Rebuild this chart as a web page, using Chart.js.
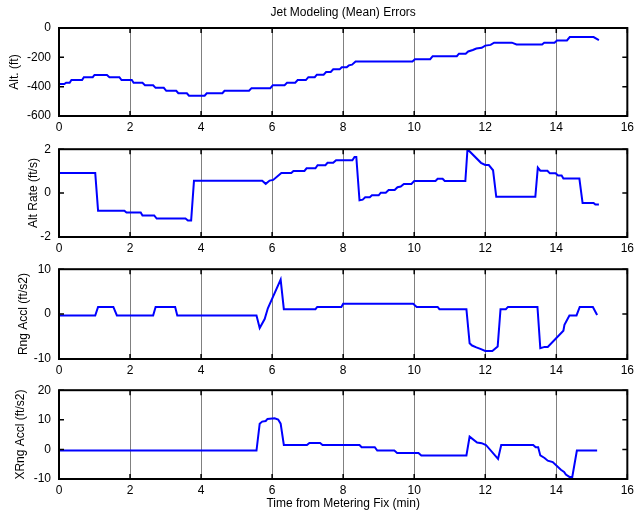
<!DOCTYPE html>
<html>
<head>
<meta charset="utf-8">
<script src="https://cdn.jsdelivr.net/npm/chart.js@4/dist/chart.umd.min.js"></script>
<style>
    body { margin: 0; background: #fff; }
    .panel { position: absolute; left: 0; width: 638px; }
</style>
</head>
<body>
<div class="panel" style="top:0;height:135px"><canvas id="altChart"></canvas></div>
<div class="panel" style="top:134px;height:121px"><canvas id="rateChart"></canvas></div>
<div class="panel" style="top:254px;height:121px"><canvas id="rngChart"></canvas></div>
<div class="panel" style="top:375px;height:138px"><canvas id="xrngChart"></canvas></div>
<script>
// data (time in min)
const xTicks = [0, 2, 4, 6, 8, 10, 12, 14, 16];

const altT = [0, 0.15, 0.2, 0.3, 0.35, 0.65, 0.7, 0.95, 1.0, 1.35, 1.42, 1.7, 1.76, 2.05, 2.1, 2.35, 2.42, 2.65, 2.72, 2.95,
    3.02, 3.3, 3.36, 3.6, 3.66, 4.1, 4.16, 4.6, 4.66, 5.35, 5.42, 5.95, 6.02, 6.35, 6.42, 6.65, 6.72, 6.95, 7.02, 7.2,
    7.26, 7.45, 7.52, 7.65, 7.72, 7.9, 7.96, 8.1, 8.16, 8.25, 8.35, 9.95, 10.02, 10.45, 10.52, 11.2, 11.26, 11.45, 11.52, 11.65,
    11.75, 11.9, 12.0, 12.15, 12.25, 12.75, 12.88, 13.6, 13.66, 13.95, 14.02, 14.3, 14.38, 15.05, 15.2];
const altV = [-382, -382, -373, -373, -355, -355, -335, -335, -320, -320, -335, -335, -355, -355, -373, -373, -390, -390, -408, -408,
    -428, -428, -445, -445, -462, -462, -445, -445, -428, -428, -410, -410, -390, -390, -373, -373, -355, -355, -335, -335,
    -318, -318, -300, -300, -282, -282, -268, -268, -255, -250, -228, -228, -213, -213, -192, -192, -175, -175, -160, -150,
    -140, -135, -120, -115, -100, -100, -112, -112, -100, -100, -85, -85, -62, -62, -82];
const altTicks = [-600, -400, -200, 0];

const rateT = [0, 1.02, 1.1, 1.84, 1.9, 2.3, 2.35, 2.68, 2.75, 3.56, 3.63, 3.72, 3.8, 5.72, 5.82, 5.93, 6.03, 6.26, 6.54, 6.6,
    6.91, 6.97, 7.22, 7.28, 7.5, 7.56, 7.72, 7.8, 8.26, 8.32, 8.37, 8.46, 8.55, 8.62, 8.75, 8.81, 9.0, 9.06, 9.2, 9.28,
    9.45, 9.53, 9.62, 9.71, 9.92, 10.0, 10.6, 10.66, 10.8, 10.86, 11.44, 11.5, 11.88, 12.0, 12.1, 12.22, 12.31, 13.41, 13.48, 13.55,
    13.75, 13.82, 13.98, 14.05, 14.15, 14.2, 14.65, 14.74, 15.05, 15.1, 15.2];
const rateV = [0.92, 0.92, -0.8, -0.8, -0.88, -0.88, -1.02, -1.02, -1.16, -1.16, -1.25, -1.25, 0.56, 0.56, 0.42, 0.57, 0.6, 0.92, 0.92, 1.01,
    1.01, 1.13, 1.13, 1.27, 1.27, 1.38, 1.38, 1.5, 1.5, 1.65, 1.65, -0.33, -0.3, -0.19, -0.19, -0.1, -0.1, 0.02, 0.02, 0.14,
    0.14, 0.27, 0.3, 0.42, 0.42, 0.55, 0.55, 0.65, 0.65, 0.55, 0.55, 2.0, 1.38, 1.28, 1.28, 1.04, -0.17, -0.17, 1.16, 1.02,
    1.02, 0.9, 0.9, 0.8, 0.8, 0.66, 0.66, -0.45, -0.45, -0.52, -0.52];
const rateTicks = [-2, 0, 2];

const rngT = [0, 1.02, 1.1, 1.53, 1.63, 2.65, 2.72, 3.27, 3.33, 5.56, 5.65, 5.79, 5.88, 6.24, 6.33, 7.22, 7.27, 7.95, 8.0, 9.97,
    10.07, 10.66, 10.71, 11.47, 11.56, 11.63, 11.75, 11.88, 12.0, 12.2, 12.35, 12.43, 12.58, 12.64, 13.47, 13.55, 13.67, 13.76, 14.2, 14.23,
    14.37, 14.57, 14.66, 15.03, 15.15];
const rngV = [-0.3, -0.3, 1.6, 1.6, -0.3, -0.3, 1.6, 1.6, -0.3, -0.3, -3.1, -1.1, 1.3, 7.7, 1.1, 1.1, 1.6, 1.6, 2.3, 2.3,
    1.6, 1.6, 1.1, 1.1, -6.5, -7.0, -7.4, -7.8, -8.2, -8.2, -7.2, 1.1, 1.1, 1.6, 1.6, -7.6, -7.3, -7.3, -3.7, -2.4,
    -0.3, -0.3, 1.6, 1.6, -0.2];
const rngTicks = [-10, 0, 10];

const xrngT = [0, 5.56, 5.65, 5.72, 5.82, 5.87, 6.07, 6.17, 6.24, 6.33, 6.98, 7.05, 7.35, 7.42, 8.46, 8.52, 8.89, 8.96, 9.44, 9.52,
    10.12, 10.2, 11.47, 11.56, 11.77, 11.9, 12.02, 12.36, 12.45, 13.35, 13.42, 13.49, 13.55, 13.67, 13.76, 13.9, 14.13, 14.22, 14.27, 14.37,
    14.45, 14.58, 15.15];
const xrngV = [-0.4, -0.4, 8.7, 9.4, 9.6, 10.3, 10.5, 10.1, 8.7, 1.5, 1.5, 2.2, 2.2, 1.5, 1.5, 0.75, 0.75, -0.4, -0.4, -1.2,
    -1.2, -2.05, -2.05, 4.3, 2.3, 2.1, 1.5, -3.2, 1.5, 1.5, 0.75, 0.75, -2.05, -2.9, -3.8, -4.3, -6.9, -7.6, -8.5, -9.3,
    -9.3, -0.4, -0.4];
const xrngTicks = [-10, 0, 10, 20];

Chart.defaults.font.family = "'Liberation Sans', Arial, Helvetica, sans-serif";
Chart.defaults.font.size = 12;
Chart.defaults.color = '#000';

// black box round the plot with matlab style inward ticks
const framePlugin = {
    id: 'frame',
    afterDraw(chart) {
        const ctx = chart.ctx;
        const a = chart.chartArea;
        const xs = chart.scales.x, ys = chart.scales.y;
        const len = 5;
        ctx.save();
        ctx.strokeStyle = '#000';
        ctx.lineWidth = 1.5;
        ctx.beginPath();
        xTicks.forEach(v => {
            const px = xs.getPixelForValue(v);
            ctx.moveTo(px, a.top); ctx.lineTo(px, a.top + len);
            ctx.moveTo(px, a.bottom); ctx.lineTo(px, a.bottom - len);
        });
        chart.options.yTickList.forEach(v => {
            const py = ys.getPixelForValue(v);
            ctx.moveTo(a.left, py); ctx.lineTo(a.left + len, py);
            ctx.moveTo(a.right, py); ctx.lineTo(a.right - len, py);
        });
        ctx.stroke();
        ctx.lineWidth = 2;
        ctx.strokeRect(a.left, a.top, a.right - a.left, a.bottom - a.top);
        if (chart.options.topTitle) {
            ctx.fillStyle = '#000';
            ctx.font = "12px 'Liberation Sans', Arial, sans-serif";
            ctx.textAlign = 'center';
            ctx.textBaseline = 'middle';
            ctx.fillText(chart.options.topTitle, (a.left + a.right) / 2, 13);
        }
        ctx.restore();
    }
};

function makePanel(id, times, values, yTickList, yLabel, cfg) {
    const pts = times.map((t, i) => ({ x: t, y: values[i] }));
    const yMin = yTickList[0], yMax = yTickList[yTickList.length - 1];
    return new Chart(document.getElementById(id), {
        type: 'line',
        data: {
            datasets: [{
                data: pts,
                borderColor: '#0000ff',
                borderWidth: 2,
                pointRadius: 0,
                tension: 0,
                fill: false
            }]
        },
        options: {
            responsive: true,
            maintainAspectRatio: false,
            animation: false,
            yTickList: yTickList,
            topTitle: cfg.topTitle || null,
            layout: { padding: { top: cfg.padTop, right: 9.3, left: 0, bottom: 0 } },
            plugins: { legend: { display: false }, tooltip: { enabled: false } },
            scales: {
                x: {
                    type: 'linear',
                    min: 0,
                    max: 16,
                    afterBuildTicks: (s) => { s.ticks = xTicks.map(v => ({ value: v })); },
                    afterFit: (s) => { s.height = cfg.xHeight; },
                    ticks: { padding: 4, maxRotation: 0 },
                    grid: { color: '#808080', lineWidth: 1, drawTicks: false },
                    border: { display: false },
                    title: {
                        display: !!cfg.xTitle,
                        text: cfg.xTitle || '',
                        padding: { top: 0, bottom: 2 }
                    }
                },
                y: {
                    min: yMin,
                    max: yMax,
                    afterBuildTicks: (s) => { s.ticks = yTickList.map(v => ({ value: v })); },
                    afterFit: (s) => { s.width = 59; },
                    ticks: { padding: 8 },
                    grid: { display: false, drawTicks: false },
                    border: { display: false },
                    title: {
                        display: true,
                        text: yLabel,
                        padding: { top: cfg.yTitlePad, bottom: 0 }
                    }
                }
            }
        },
        plugins: [framePlugin]
    });
}

makePanel('altChart', altT, altV, altTicks, 'Alt. (ft)',
    { padTop: 28, xHeight: 19, yTitlePad: 7, topTitle: 'Jet Modeling (Mean) Errors' });
makePanel('rateChart', rateT, rateV, rateTicks, 'Alt Rate (ft/s)',
    { padTop: 15, xHeight: 18, yTitlePad: 26 });
makePanel('rngChart', rngT, rngV, rngTicks, 'Rng Accl (ft/s2)',
    { padTop: 15, xHeight: 16, yTitlePad: 16 });
makePanel('xrngChart', xrngT, xrngV, xrngTicks, 'XRng Accl (ft/s2)',
    { padTop: 15, xHeight: 34, yTitlePad: 13, xTitle: 'Time from Metering Fix (min)' });
</script>
</body>
</html>
